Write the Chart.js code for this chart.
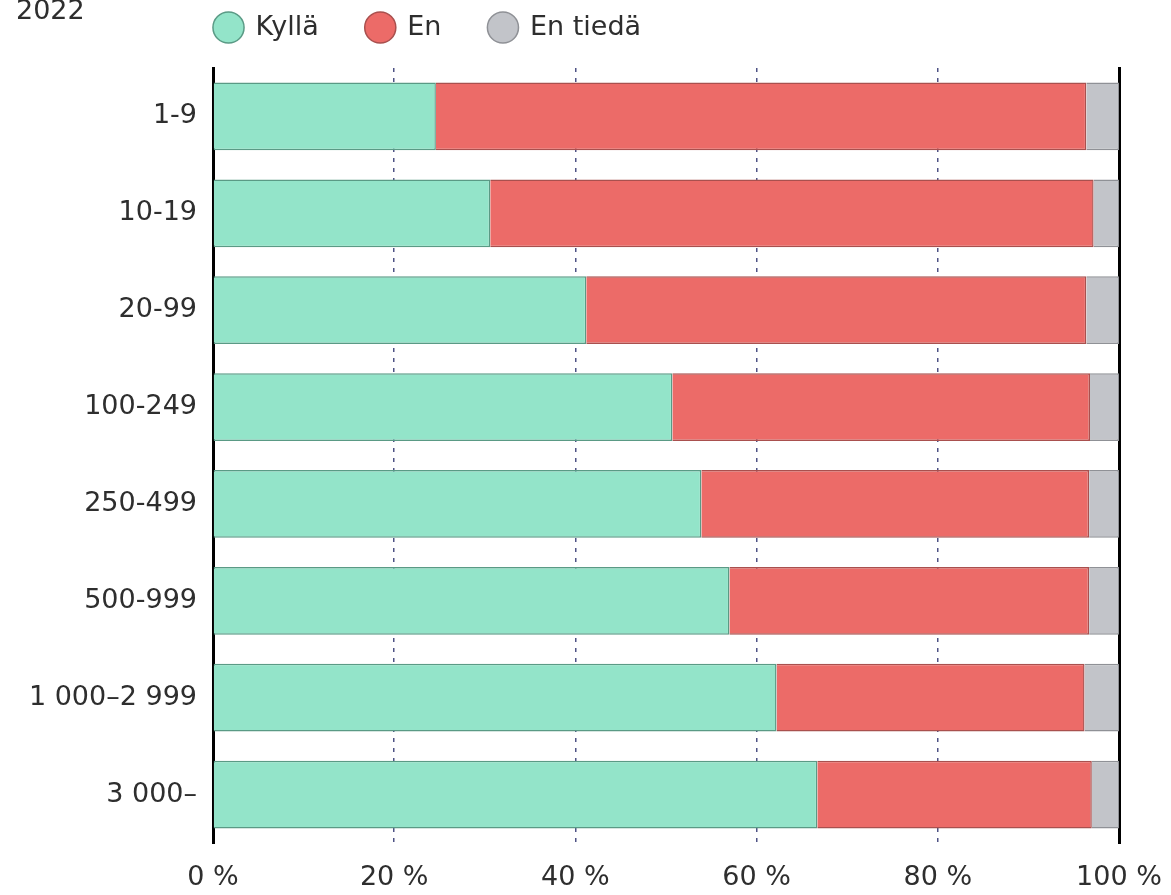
<!DOCTYPE html>
<html>
<head>
<meta charset="utf-8">
<script src="https://cdn.jsdelivr.net/npm/chart.js@4.4.1/dist/chart.umd.min.js"></script>
<style>
  html, body { margin: 0; padding: 0; background: #fff; }
  #wrap { width: 1171px; height: 895px; }
</style>
</head>
<body>
<div id="wrap"><canvas id="chart"></canvas></div>
<script>
const year = '2022'
const categories = ['1-9', '10-19', '20-99', '100-249', '250-499', '500-999', '1 000–2 999', '3 000–']
const kylla = [24.6, 30.6, 41.2, 50.7, 53.9, 57.0, 62.2, 66.7]
const en = [71.8, 66.6, 55.2, 46.1, 42.8, 39.7, 34.0, 30.3]
const enTieda = [3.6, 2.8, 3.6, 3.2, 3.3, 3.3, 3.8, 3.0]
const xTicks = [0, 20, 40, 60, 80, 100]

const FONT = '"DejaVu Sans", "Open Sans", sans-serif'
const TEXT = '#2e2e2e'

// year label in the top left corner, and the legend moved next to the plot
const yearLabel = {
    id: 'yearLabel',
    afterLayout: (chart) => {
        const lg = chart.legend
        const h = lg.bottom - lg.top
        lg.left += 167
        lg.right += 167
        lg.top = -34
        lg.bottom = lg.top + h
    },
    afterDraw: (chart) => {
        const ctx = chart.ctx
        ctx.save()
        ctx.font = '27px ' + FONT
        ctx.fillStyle = TEXT
        ctx.textAlign = 'left'
        ctx.textBaseline = 'middle'
        ctx.fillText(year, 16, 12)
        ctx.restore()
    }
}

const ctx = document.getElementById('chart').getContext('2d')
const chart = new Chart(ctx, {
    type: 'bar',
    data: {
        labels: categories,
        datasets: [{
                label: 'Kyllä',
                data: kylla,
                backgroundColor: '#93e4c9',
                borderColor: '#5a9a85',
                borderWidth: 1.5
            },
            {
                label: 'En',
                data: en,
                backgroundColor: '#ec6b68',
                borderColor: '#a9504e',
                borderWidth: 1.5
            },
            {
                label: 'En tiedä',
                data: enTieda,
                backgroundColor: '#c2c4c9',
                borderColor: '#8f9196',
                borderWidth: 1.5
            }
        ]
    },
    options: {
        indexAxis: 'y',
        responsive: true,
        maintainAspectRatio: false,
        animation: false,
        layout: {
            padding: { left: 0, right: 52, top: -17, bottom: 0 }
        },
        datasets: {
            bar: { categoryPercentage: 1, barPercentage: 0.7 }
        },
        plugins: {
            legend: {
                position: 'top',
                align: 'start',
                labels: {
                    usePointStyle: true,
                    pointStyle: 'circle',
                    boxWidth: 32,
                    boxHeight: 22,
                    padding: 48,
                    color: TEXT,
                    font: { family: FONT, size: 27 }
                }
            },
            tooltip: { enabled: false }
        },
        scales: {
            x: {
                stacked: true,
                min: 0,
                max: 100,
                afterBuildTicks: (scale) => {
                    scale.ticks = xTicks.map(v => ({ value: v }))
                },
                afterFit: (scale) => { scale.height = 52 },
                ticks: {
                    color: TEXT,
                    padding: 0,
                    font: { family: FONT, size: 27 },
                    callback: (v) => v + ' %'
                },
                grid: {
                    drawTicks: true,
                    tickLength: 19,
                    tickColor: 'rgba(0,0,0,0)',
                    color: (c) => (c.tick && (c.tick.value === 0 || c.tick.value === 100)) ? 'rgba(0,0,0,0)' : '#4f5385',
                    lineWidth: 1.5
                },
                border: { display: false, dash: [4, 6] }
            },
            y: {
                stacked: true,
                afterFit: (scale) => { scale.width = 213 },
                ticks: {
                    color: TEXT,
                    padding: 8,
                    font: { family: FONT, size: 27 }
                },
                grid: { display: false },
                border: { display: true, color: '#000', width: 3 }
            },
            y2: {
                position: 'right',
                afterFit: (scale) => { scale.width = 0 },
                ticks: { display: false },
                grid: { display: false },
                border: { display: true, color: '#000', width: 3 }
            }
        }
    },
    plugins: [yearLabel]
})
</script>
</body>
</html>
